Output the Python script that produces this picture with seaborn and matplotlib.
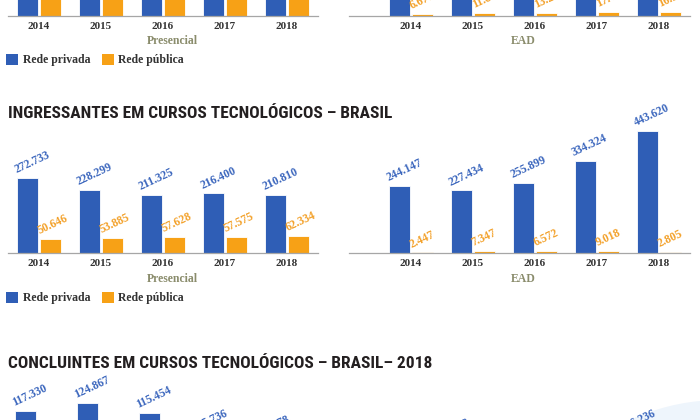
import matplotlib
matplotlib.use("Agg")
import matplotlib.pyplot as plt
import seaborn as sns
import pandas as pd
from matplotlib import font_manager as fm
from matplotlib.patches import Ellipse, Patch

# ---------------- data ----------------
anos = ["2014", "2015", "2016", "2017", "2018"]
redes = ["Rede privada", "Rede pública"]

# Matrículas (chart cut at the top of the picture)
mat_pres_privada = [612000, 571000, 536000, 512000, 489000]
mat_pres_publica = [148000, 156000, 165000, 171000, 178000]
mat_ead_privada = [391000, 402000, 437000, 521000, 642000]
mat_ead_publica = [6676, 11834, 13215, 17402, 16981]

# Ingressantes
ing_pres_privada = [272733, 228299, 211325, 216400, 210810]
ing_pres_publica = [50646, 53885, 57628, 57575, 62334]
ing_ead_privada = [244147, 227434, 255899, 334324, 443620]
ing_ead_publica = [2447, 7347, 6572, 9018, 2805]

# Concluintes (chart cut at the bottom of the picture)
conc_pres_privada = [117330, 124867, 115454, 95736, 90478]
conc_pres_publica = [21300, 22800, 24100, 25600, 26900]
conc_ead_privada = [64512, 87318, 76904, 79125, 96236]
conc_ead_publica = [1210, 1840, 2320, 2950, 3110]

titulo_ing = "INGRESSANTES EM CURSOS TECNOLÓGICOS – BRASIL"
titulo_conc = "CONCLUINTES EM CURSOS TECNOLÓGICOS – BRASIL– 2018"

# ---------------- style ----------------
BLUE = "#2f5eb6"
ORANGE = "#f7a116"
LBLUE = "#3b66bd"
LORANGE = "#f3a12a"
SERIF = "Liberation Serif"

sns.set_theme(style="white")
avail = {f.name for f in fm.fontManager.ttflist}
TITLE_FONT = next((f for f in ["Liberation Sans Narrow", "DejaVu Sans Condensed",
                               "Roboto Condensed", "Open Sans Condensed", "Roboto"]
                   if f in avail), "DejaVu Sans")
plt.rcParams["font.family"] = [SERIF, "DejaVu Sans"]

W, H = 700, 420
fig = plt.figure(figsize=(7, 4.2), dpi=100)
fig.patch.set_facecolor("white")

# light-blue decoration at bottom right
R = 212
fig.patches.append(Ellipse((720 / W, (H - 612) / H), 2 * R / W, 2 * R / H,
                           transform=fig.transFigure, facecolor="#eef5fc",
                           edgecolor="none", zorder=-5))


def fmt(v):
    return f"{v:,}".replace(",", ".")


def panel(left, right, baseline, height, scale, xmin, priv, pub, labels=True):
    ax = fig.add_axes([left / W, (H - baseline) / H, (right - left) / W, height / H])
    ax.set_facecolor("none")
    df = pd.DataFrame({
        "ano": anos * 2,
        "valor": list(priv) + list(pub),
        "rede": [redes[0]] * 5 + [redes[1]] * 5,
    })
    sns.barplot(data=df, x="ano", y="valor", hue="rede", order=anos, hue_order=redes,
                palette=[BLUE, ORANGE], saturation=1, width=0.76, gap=0.1,
                legend=False, ax=ax, linewidth=0.6, edgecolor="#ffffff")
    ax.set_xlim(xmin, 4.5)
    ax.set_ylim(0, height / scale)
    for s in ["top", "left", "right"]:
        ax.spines[s].set_visible(False)
    ax.spines["bottom"].set_color("#a6a6a6")
    ax.spines["bottom"].set_linewidth(0.9)
    ax.set_yticks([])
    ax.set_xlabel("")
    ax.set_ylabel("")
    ax.set_xticks(range(5))
    ax.set_xticklabels(anos, fontsize=8, fontweight="bold", color="#333333", family=SERIF)
    ax.tick_params(axis="x", which="major", length=0, pad=4.5)
    ax.set_xticks([i - 0.5 for i in range(6)], minor=True)
    ax.tick_params(axis="x", which="minor", length=3, width=0.8, color="#a6a6a6",
                   direction="out")
    if labels:
        for cont, col in zip(ax.containers, [LBLUE, LORANGE]):
            for bar, v in zip(cont, cont.datavalues):
                ax.annotate(fmt(int(v)), xy=(bar.get_x(), bar.get_height()),
                            xytext=(0.5, 1.5), textcoords="offset points",
                            rotation=25, rotation_mode="anchor", ha="left", va="bottom",
                            color=col, fontsize=8.4, fontweight="bold", family=SERIF,
                            annotation_clip=False)
    return ax


def subtitles(y):
    fig.text(172 / W, (H - y) / H, "Presencial", ha="center", va="center",
             fontsize=8.5, fontweight="bold", color="#8a8c6c", family=SERIF)
    fig.text(523 / W, (H - y) / H, "EAD", ha="center", va="center",
             fontsize=8.5, fontweight="bold", color="#8a8c6c", family=SERIF)


def legend(y):
    handles = [Patch(facecolor=BLUE, edgecolor="none"), Patch(facecolor=ORANGE, edgecolor="none")]
    fig.legend(handles, redes, loc="center left", bbox_to_anchor=(6 / W, (H - y) / H),
               ncol=2, frameon=False, handlelength=1.05, handleheight=1.05,
               handletextpad=0.35, columnspacing=1.0, borderaxespad=0, borderpad=0,
               prop={"family": SERIF, "weight": "bold", "size": 8.5},
               labelcolor="#333333")


# ---- top chart (Matrículas), only the bottom is visible ----
s_top = 0.00021
panel(8, 318, 15.5, 160, s_top, -0.5, mat_pres_privada, mat_pres_publica)
panel(349, 690, 15.5, 160, s_top, -1.0, mat_ead_privada, mat_ead_publica)
subtitles(41)
legend(60)

# ---- middle chart (Ingressantes) ----
s_mid = 75 / 272733
fig.text(8 / W, (H - 113) / H, titulo_ing, ha="left", va="center", fontsize=12.5,
         fontweight="bold", color="#231f20", family=[TITLE_FONT, "DejaVu Sans"])
panel(8, 318, 253, 125, s_mid, -0.5, ing_pres_privada, ing_pres_publica)
panel(349, 690, 253, 125, s_mid, -1.0, ing_ead_privada, ing_ead_publica)
subtitles(279)
legend(298)

# ---- bottom chart (Concluintes), only the top is visible ----
s_bot = 0.00106
base_bot = 411 + 117330 * s_bot
fig.text(8 / W, (H - 363) / H, titulo_conc, ha="left", va="center", fontsize=12.5,
         fontweight="bold", color="#231f20", family=[TITLE_FONT, "DejaVu Sans"])
panel(6, 316, base_bot, 140, s_bot, -0.5, conc_pres_privada, conc_pres_publica)
panel(341, 682, base_bot, 140, s_bot, -1.0, conc_ead_privada, conc_ead_publica)

fig.savefig("out.png", dpi=100, facecolor="white")
